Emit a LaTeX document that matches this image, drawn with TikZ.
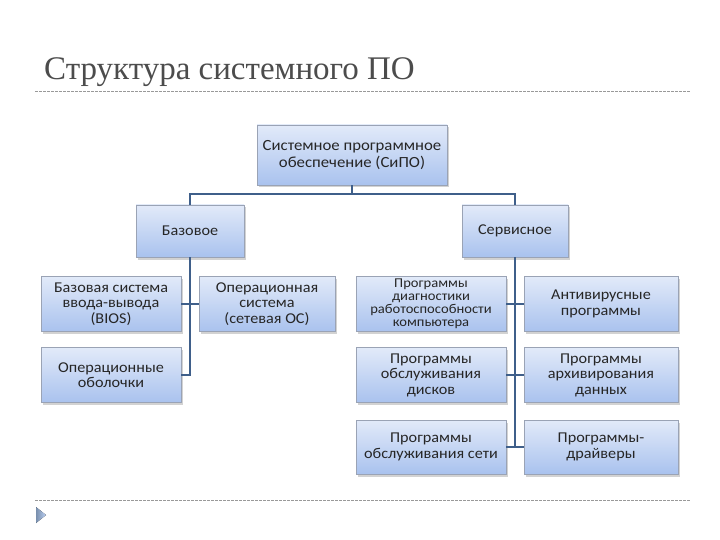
\documentclass[tikz,border=0pt]{standalone}
\usepackage{fontspec}
\setmainfont{Carlito}
\newfontfamily\boxfont{Carlito}[FakeStretch=1.08]
\newfontfamily\titlefont{Liberation Serif}
\usetikzlibrary{shadows}
\definecolor{conncol}{HTML}{3F5F8A}
\definecolor{boxtop}{HTML}{E2EAF9}
\definecolor{boxbot}{HTML}{A9C2EE}
\definecolor{boxborder}{HTML}{9AA3B5}
\tikzset{
  box/.style={draw=boxborder, line width=0.6pt, top color=boxtop, bottom color=boxbot,
    align=center, inner sep=1pt, font=\boxfont\fontsize{15}{15.5}\selectfont, text=black!85,
    drop shadow={opacity=0.35, shadow xshift=1.5pt, shadow yshift=-2.5pt}},
  conn/.style={draw=conncol, line width=2.8pt},
  sep/.style={draw=black!40, line width=0.7pt, dash pattern=on 2.5pt off 1.5pt},
}
\begin{document}
\begin{tikzpicture}[x=1pt,y=-1pt]
\useasboundingbox (0,0) rectangle (720,540);
\fill[white] (0,0) rectangle (720,540);
% title
\node[anchor=base west, inner sep=0, font=\titlefont\fontsize{33}{33}\selectfont, text=black!70] (title) at (44,80) {Структура системного ПО};
\draw[sep] (35,91) -- (690,91);
\draw[sep] (35,500) -- (690,500);
\fill[left color=conncol!70, right color=boxbot!80] (36,507) -- (46,515) -- (36,523) -- cycle;
% boxes
\node[box, minimum width=190pt, minimum height=60pt, font=\boxfont\fontsize{15.5}{17}\selectfont] (top) at (352,155) {Системное программное\\обеспечение (СиПО)};
\node[box, minimum width=108pt, minimum height=52pt] (baz) at (190,231) {Базовое};
\node[box, minimum width=106pt, minimum height=52pt] (serv) at (515,231) {Сервисное};
\node[box, minimum width=140pt, minimum height=55pt] (bios) at (111,304) {Базовая система\\ввода-вывода\\(BIOS)};
\node[box, minimum width=136pt, minimum height=55pt] (os) at (267,304) {Операционная\\система\\(сетевая ОС)};
\node[box, minimum width=140pt, minimum height=55pt] (obol) at (111,375) {Операционные\\оболочки};
\node[box, minimum width=150pt, minimum height=55pt, inner sep=0pt, font=\boxfont\fontsize{13.5}{13}\selectfont] (diag) at (431,304) {Программы\\диагностики\\работоспособности\\компьютера};
\node[box, minimum width=154pt, minimum height=55pt] (anti) at (601,304) {Антивирусные\\программы};
\node[box, minimum width=150pt, minimum height=55pt] (disk) at (431,375) {Программы\\обслуживания\\дисков};
\node[box, minimum width=154pt, minimum height=55pt] (arch) at (601,375) {Программы\\архивирования\\данных};
\node[box, minimum width=150pt, minimum height=54pt] (set) at (431,447) {Программы\\обслуживания сети};
\node[box, minimum width=154pt, minimum height=54pt] (drv) at (601,447) {Программы-\\драйверы};
% connectors
\coordinate (j) at (352,194);
\draw[conn] (top.south) -- (j);
\draw[conn] (baz.north) |- (j) -| (serv.north);
\draw[conn] (baz.south) |- (obol.east);
\draw[conn] (bios.east) -- (os.west);
\draw[conn] (serv.south) -- (serv.south |- set.east);
\draw[conn] (diag.east) -- (anti.west);
\draw[conn] (disk.east) -- (arch.west);
\draw[conn] (set.east) -- (drv.west);
\end{tikzpicture}
\end{document}
